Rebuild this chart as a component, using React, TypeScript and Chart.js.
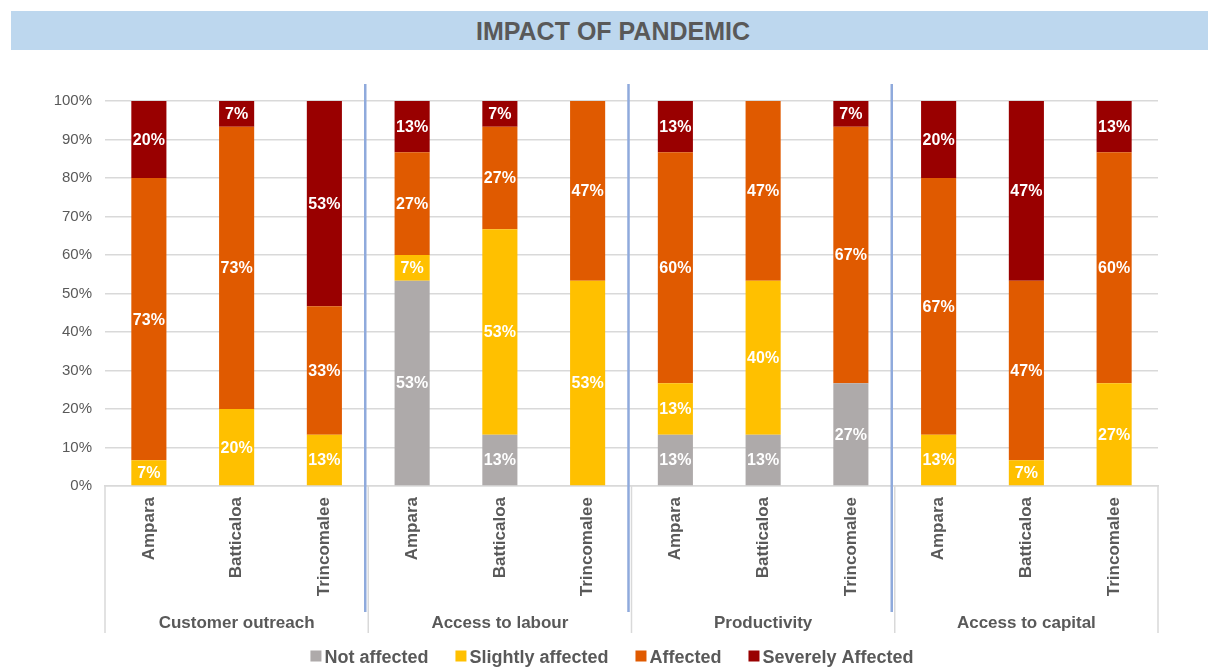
import React, { useEffect, useRef } from "react";
import { Chart, registerables } from "chart.js";

Chart.register(...registerables);

// Districts repeat once per impact area
const districts = [
  "Ampara", "Batticaloa", "Trincomalee",
  "Ampara", "Batticaloa", "Trincomalee",
  "Ampara", "Batticaloa", "Trincomalee",
  "Ampara", "Batticaloa", "Trincomalee",
];
const impactAreas = ["Customer outreach", "Access to labour", "Productivity", "Access to capital"];
const districtsPerArea = 3;

// Share of respondents (%) per district and impact area
const notAffected = [0, 0, 0, 53.33, 13.33, 0, 13.33, 13.33, 26.67, 0, 0, 0];
const slightlyAffected = [6.67, 20, 13.33, 6.67, 53.33, 53.33, 13.33, 40, 0, 13.33, 6.67, 26.67];
const affected = [73.33, 73.33, 33.33, 26.67, 26.67, 46.67, 60, 46.67, 66.67, 66.67, 46.67, 60];
const severelyAffected = [20, 6.67, 53.33, 13.33, 6.67, 0, 13.33, 0, 6.67, 20, 46.67, 13.33];

const seriesNames = ["Not affected", "Slightly affected", "Affected", "Severely Affected"];
const seriesColors = ["#AEAAAA", "#FFC000", "#E05A00", "#990000"];

const FONT = '"Liberation Sans", Arial, Helvetica, sans-serif';
const TEXT_GREY = "#595959";
const AXIS_GREY = "#D9D9D9";
const SEPARATOR_BLUE = "#8FAADC";

const W = 1208;
const H = 667;

const groupedAxisPlugin = {
  id: "groupedAxis",
  afterDatasetsDraw(chart: any) {
    const ctx = chart.ctx;
    ctx.save();
    ctx.font = `bold 16px ${FONT}`;
    ctx.fillStyle = "#FFFFFF";
    ctx.textAlign = "center";
    ctx.textBaseline = "middle";
    chart.data.datasets.forEach((ds: any, di: number) => {
      const meta = chart.getDatasetMeta(di);
      meta.data.forEach((bar: any, i: number) => {
        const v = ds.data[i];
        if (!v) return;
        const yMid = (bar.y + bar.base) / 2;
        ctx.fillText(`${Math.round(v)}%`, bar.x, yMid + 1);
      });
    });
    ctx.restore();
  },
  afterDraw(chart: any) {
    const ctx = chart.ctx;
    const x = chart.scales.x;
    const area = chart.chartArea;
    const axisBottom = x.bottom;
    const step = (x.right - x.left) / districts.length;

    ctx.save();
    // group boundaries on the category axis
    ctx.strokeStyle = AXIS_GREY;
    ctx.lineWidth = 1.5;
    for (let g = 0; g <= impactAreas.length; g++) {
      const bx = x.left + g * districtsPerArea * step;
      ctx.beginPath();
      ctx.moveTo(bx, area.bottom);
      ctx.lineTo(bx, axisBottom);
      ctx.stroke();
    }

    // impact area names
    ctx.font = `bold 17px ${FONT}`;
    ctx.fillStyle = TEXT_GREY;
    ctx.textAlign = "center";
    ctx.textBaseline = "middle";
    impactAreas.forEach((name, g) => {
      const cx = x.left + (g + 0.5) * districtsPerArea * step;
      ctx.fillText(name, cx, axisBottom - 10);
    });

    // blue dividers between impact areas
    ctx.strokeStyle = SEPARATOR_BLUE;
    ctx.lineWidth = 2.5;
    for (let g = 1; g < impactAreas.length; g++) {
      const bx = x.left + g * districtsPerArea * step - 3;
      ctx.beginPath();
      ctx.moveTo(bx, area.top - 17);
      ctx.lineTo(bx, axisBottom - 21);
      ctx.stroke();
    }

    // legend
    ctx.font = `bold 18px ${FONT}`;
    ctx.textAlign = "left";
    const box = 11;
    const gap = 3;
    const spacing = 27;
    const widths = seriesNames.map((n) => box + gap + ctx.measureText(n).width);
    const total = widths.reduce((a, b) => a + b, 0) + spacing * (seriesNames.length - 1);
    let lx = W / 2 + 8 - total / 2;
    const ly = 657;
    seriesNames.forEach((n, i) => {
      ctx.fillStyle = seriesColors[i];
      ctx.fillRect(lx, ly - box / 2 - 1, box, box);
      ctx.fillStyle = TEXT_GREY;
      ctx.fillText(n, lx + box + gap, ly + 1);
      lx += widths[i] + spacing;
    });
    ctx.restore();
  },
};

export default function App() {
  const canvasRef = useRef<HTMLCanvasElement | null>(null);

  useEffect(() => {
    if (!canvasRef.current) return;
    const series = [notAffected, slightlyAffected, affected, severelyAffected];
    const chart = new Chart(canvasRef.current, {
      type: "bar",
      data: {
        labels: districts,
        datasets: series.map((values, i) => ({
          label: seriesNames[i],
          data: values,
          backgroundColor: seriesColors[i],
          borderWidth: 0,
          barPercentage: 0.4,
          categoryPercentage: 1,
        })),
      },
      options: {
        responsive: false,
        animation: false,
        layout: { padding: { top: 101, left: 0, right: 50, bottom: 34 } },
        plugins: {
          legend: { display: false },
          tooltip: { enabled: false },
          title: { display: false },
        },
        scales: {
          x: {
            stacked: true,
            grid: { display: false, drawTicks: false },
            border: { display: true, color: AXIS_GREY, width: 1.5 },
            ticks: {
              maxRotation: 90,
              minRotation: 90,
              autoSkip: false,
              padding: 11,
              color: TEXT_GREY,
              font: { family: FONT, size: 17, weight: "bold" },
            },
            afterFit: (scale: any) => {
              scale.height = 147;
            },
          },
          y: {
            stacked: true,
            min: 0,
            max: 100,
            ticks: {
              stepSize: 10,
              padding: 13,
              color: TEXT_GREY,
              font: { family: FONT, size: 15 },
              callback: (v: any) => `${v}%`,
            },
            grid: { color: AXIS_GREY, lineWidth: 1.5, drawTicks: false },
            border: { display: false },
            afterFit: (scale: any) => {
              scale.width = 105;
            },
          },
        },
      },
      plugins: [groupedAxisPlugin],
    });
    return () => chart.destroy();
  }, []);

  return (
    <div style={{ position: "absolute", left: 0, top: 0, width: W, height: H, background: "#FFFFFF" }}>
      <canvas ref={canvasRef} width={W} height={H} style={{ position: "absolute", left: 0, top: 0, width: W, height: H }} />
      <div
        style={{
          position: "absolute",
          left: 11,
          top: 11,
          width: W - 11,
          height: 39,
          background: "#BDD7EE",
          color: TEXT_GREY,
          fontFamily: FONT,
          fontWeight: "bold",
          fontSize: 25,
          lineHeight: "40px",
          textAlign: "center",
          paddingLeft: 7,
          boxSizing: "border-box",
        }}
      >
        IMPACT OF PANDEMIC
      </div>
    </div>
  );
}
